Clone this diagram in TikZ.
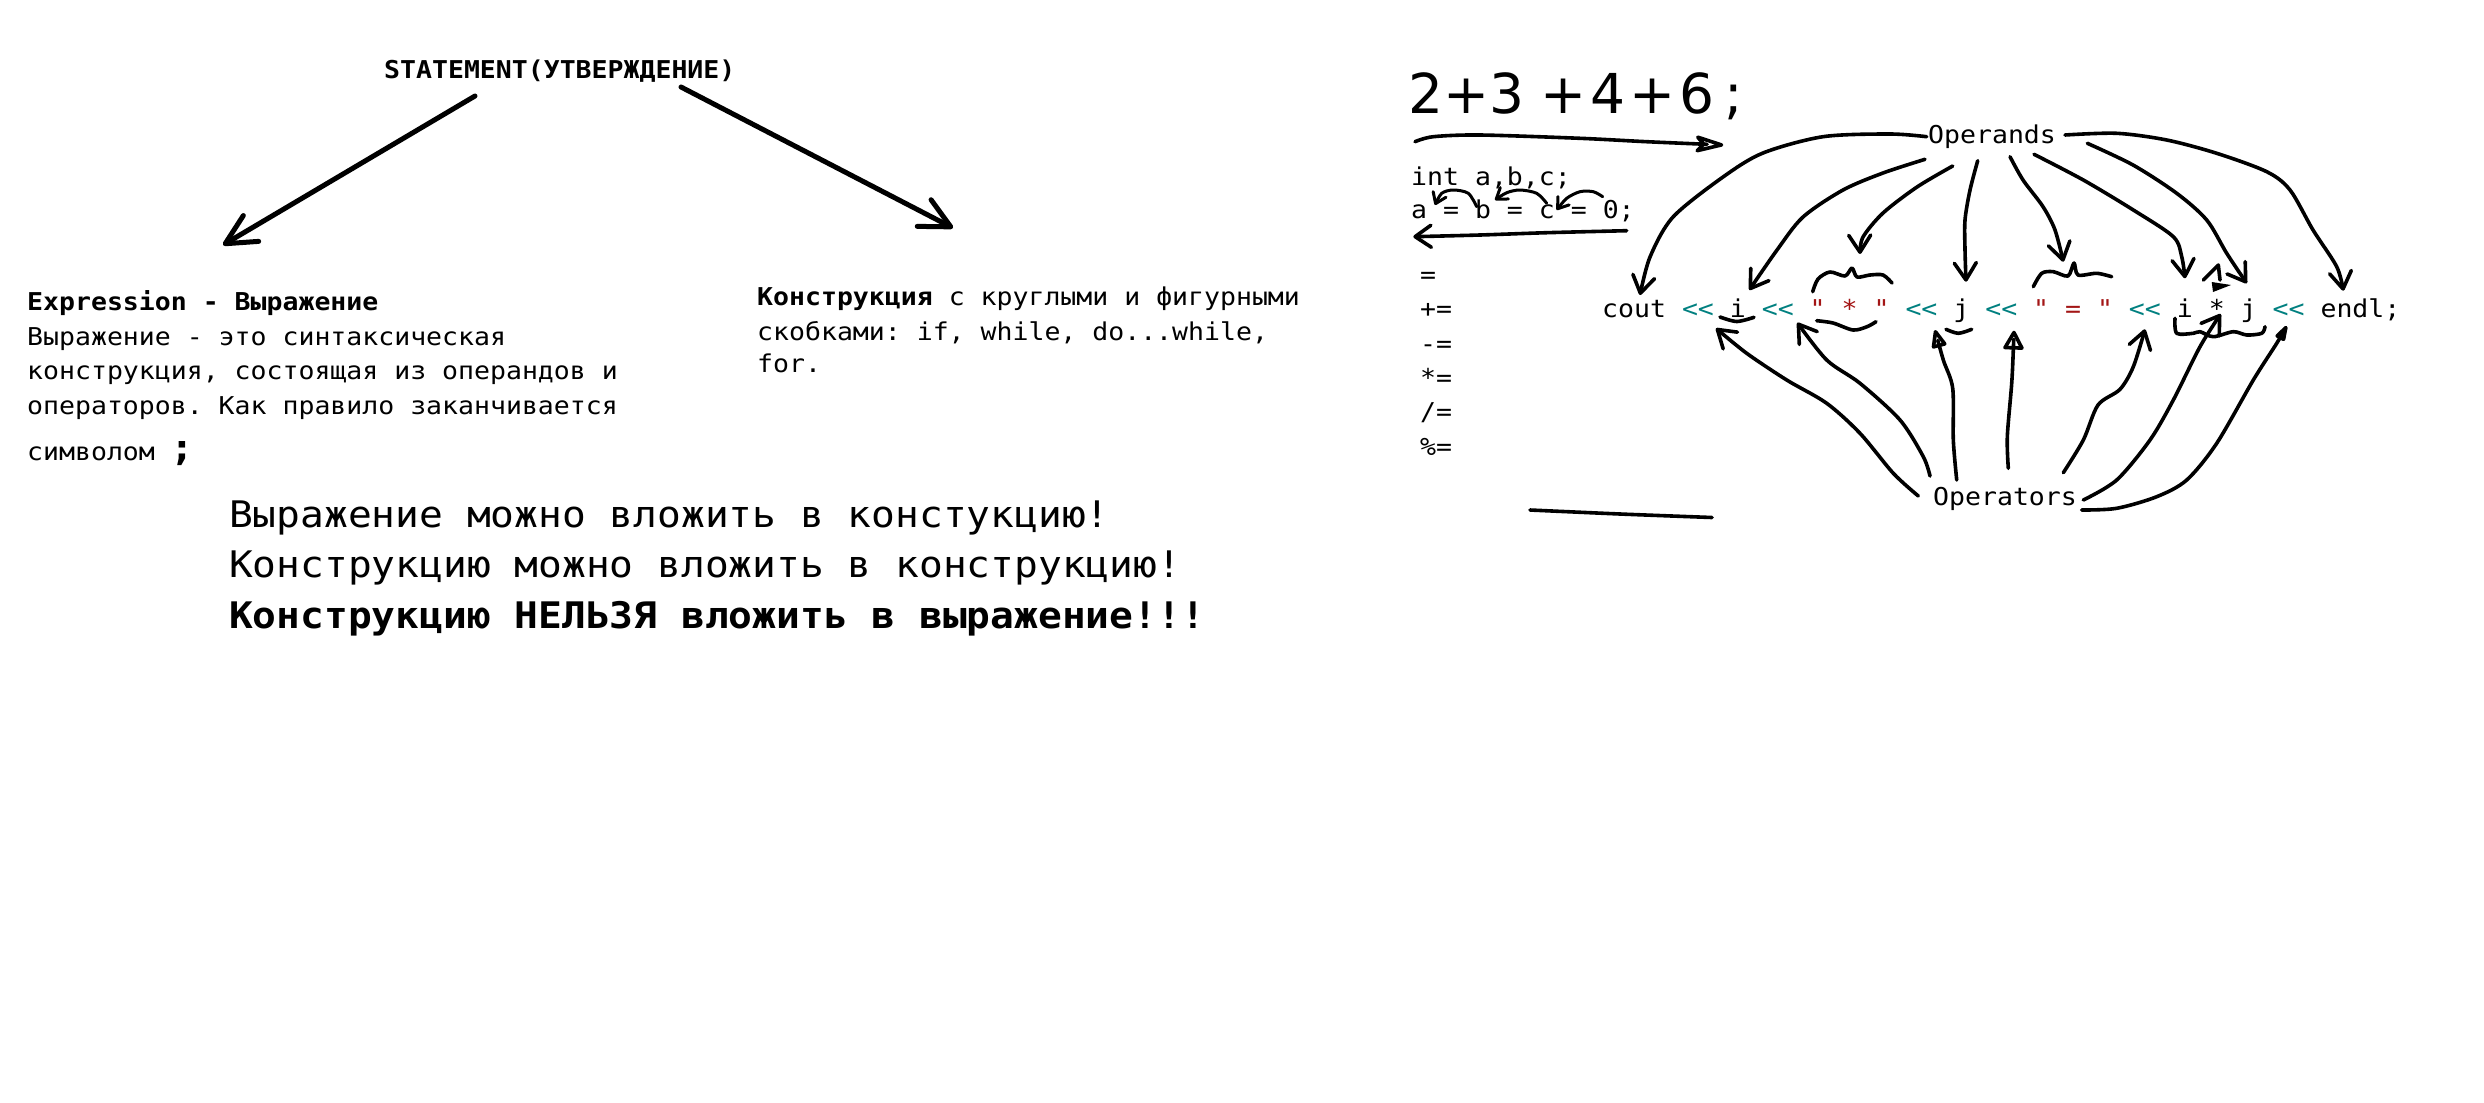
\documentclass[tikz,border=0pt]{standalone}
\usepackage{fontspec}
\usetikzlibrary{arrows.meta}
\newfontfamily\cons{DejaVu Sans Mono}[FakeStretch=1.08]
\newfontfamily\handfont{DejaVu Sans}
\definecolor{opteal}{RGB}{0,128,128}
\definecolor{strred}{RGB}{163,21,21}
\newcommand\codefont{\cons\fontsize{24.55bp}{30bp}\selectfont}
\newcommand\largefont{\cons\fontsize{36.6bp}{44bp}\selectfont}
\newcommand\ops{\textcolor{opteal}{<\kern0pt<}}
\newcommand\strlit[1]{\textcolor{strred}{#1}}
\frenchspacing
\begin{document}
\begin{tikzpicture}[x=1bp, y=-1bp,
  txt/.style={anchor=base west, inner sep=0pt, font=\codefont},
  bigtxt/.style={anchor=base west, inner sep=0pt, font=\largefont},
  pen/.style={line width=3.6bp, line cap=round, line join=round},
  bigpen/.style={line width=5bp, line cap=round, line join=round},
  thinpen/.style={line width=3bp, line cap=round, line join=round},
  barb/.style={-{Straight Barb[round, length=17bp, width=22bp]}},
  smallbarb/.style={-{Straight Barb[round, length=10bp, width=14bp]}},
  bigbarb/.style={-{Straight Barb[round, length=30bp, width=30bp]}},
  tri/.style={-{Triangle[open, round, length=21bp, width=16bp]}},
  narrowtri/.style={-{Triangle[open, round, length=20bp, width=11bp]}}
]
\fill[white] (0,0) rectangle (2484,1102);
\useasboundingbox (0,0) rectangle (2484,1102);

% ---------------- left part ----------------
\node[txt, font=\codefont\bfseries] (stmt) at (384,78) {STATEMENT(УТВЕРЖДЕНИЕ)};
\coordinate (stmt-l) at (475,96);
\coordinate (stmt-r) at (681,87);
\coordinate (expr-t) at (223,245);
\coordinate (konstr-t) at (953,228);
\draw[bigpen, bigbarb] (stmt-l) -- (expr-t);
\draw[bigpen, bigbarb] (stmt-r) -- (konstr-t);

\node[txt, font=\codefont\bfseries] (ex0) at (27,310) {Expression - Выражение};
\node[txt] (ex1) at (27,345) {Выражение - это синтаксическая};
\node[txt] (ex2) at (27,379) {конструкция, состоящая из операндов и};
\node[txt] (ex3) at (27,414) {операторов. Как правило заканчивается};
\node[txt] (ex4) at (27,460) {символом {\largefont\bfseries ;}};

\node[txt] (kn1) at (757,305) {\textbf{Конструкция} с круглыми и фигурными};
\node[txt] (kn2) at (757,340) {скобками: if, while, do...while,};
\node[txt] (kn3) at (757,372) {for.};

\node[bigtxt] (rule1) at (229,527) {Выражение можно вложить в констукцию!};
\node[bigtxt] (rule2) at (229,577) {Конструкцию можно вложить в конструкцию!};
\node[bigtxt, font=\largefont\bfseries] (rule3) at (229,628) {Конструкцию НЕЛЬЗЯ вложить в выражение!!!};

% ---------------- right part: handwritten sum ----------------
\node[anchor=base west, inner sep=0pt, font=\handfont\fontsize{55bp}{60bp}\selectfont] (sum) at (1408,113) {2+3\hspace{16bp}+\hspace{4bp}4\hspace{4bp}+\hspace{4bp}6\hspace{10bp};};
\coordinate (sum-a) at (1415,141.7);
\coordinate (sum-b) at (1723.3,145);
\draw[pen, -{Stealth[open, round, length=36bp, width=20bp, inset=9bp]}] plot[smooth] coordinates {(sum-a) (1433.3,136.7) (1480,135) (1580,138.3) (1646.7,141.7) (sum-b)};

% ---------------- assignment chain ----------------
\node[txt] (decl) at (1411,185) {int a,b,c;};
\node[txt] (chain) at (1411,218) {a = b = c = 0;};
\coordinate (ch-a) at (1435,205);
\coordinate (ch-b1) at (1476.7,206.7);
\coordinate (ch-b2) at (1495,200);
\coordinate (ch-c1) at (1546.7,203.3);
\coordinate (ch-c2) at (1556.7,210);
\coordinate (ch-0) at (1602.7,196.7);
\coordinate (ch-end) at (1626.7,230.7);
\coordinate (ch-start) at (1413.3,236.7);
\draw[thinpen, smallbarb] plot[smooth] coordinates {(ch-b1) (1468.3,193.3) (1453.3,190) (1441.7,193.3) (ch-a)};
\draw[thinpen, smallbarb] plot[smooth] coordinates {(ch-c1) (1536.7,193.3) (1520,190) (1506.7,192.7) (ch-b2)};
\draw[thinpen, smallbarb] plot[smooth] coordinates {(ch-0) (1593.3,191.7) (1580,191.7) (1566.7,198.3) (ch-c2)};
\draw[pen, -{Straight Barb[round, length=16bp, width=22bp]}] plot[smooth] coordinates {(ch-end) (1546.7,232.7) (1480,235) (ch-start)};

\node[txt] (as1) at (1420,283.5) {=};
\node[txt] (as2) at (1420,317.8) {+=};
\node[txt] (as3) at (1420,352) {-=};
\node[txt] (as4) at (1420,386.4) {*=};
\node[txt] (as5) at (1420,420.7) {/=};
\node[txt] (as6) at (1420,455) {\%=};

\draw[pen] plot[smooth] coordinates {(1530,510) (1620,514) (1712,517.5)};

% ---------------- code line ----------------
\node[txt] (code) at (1602,317) {cout \ops{} i \ops{} \strlit{" * "} \ops{} j \ops{} \strlit{" = "} \ops{} i * j \ops{} endl;};
\node[txt] (opd) at (1928,143.3) {Operands};
\node[txt] (opr) at (1933,505) {Operators};

% operand targets
\coordinate (t-cout) at (1640,295);
\coordinate (t-i1) at (1749.3,290);
\coordinate (t-str1) at (1860,254);
\coordinate (t-j1) at (1966,281.7);
\coordinate (t-str2) at (2063.3,261.7);
\coordinate (t-i2) at (2185,278.3);
\coordinate (t-j2) at (2246.7,283.3);
\coordinate (t-endl) at (2343.3,290.7);
% operand starts
\coordinate (od1) at (1926.7,136.7);
\coordinate (od2) at (1925,159.3);
\coordinate (od3) at (1952.7,166);
\coordinate (od4) at (1977.7,160.7);
\coordinate (od5) at (2010,156.7);
\coordinate (od6) at (2034,154.3);
\coordinate (od7) at (2087.3,143.3);
\coordinate (od8) at (2065,135);

\draw[pen, barb] plot[smooth] coordinates {(od1) (1890,134) (1823,136.7) (1763,153) (1723,177) (1673,217) (1650,257) (t-cout)};
\draw[pen, barb] plot[smooth] coordinates {(od2) (1883,173) (1843,190) (1803,217) (1777,250) (t-i1)};
\draw[pen, barb] plot[smooth] coordinates {(od3) (1917,187) (1883,213) (1863,237) (t-str1)};
\draw[pen, barb] plot[smooth] coordinates {(od4) (1970,190) (1965,220) (1965,250) (t-j1)};
\draw[pen, barb] plot[smooth] coordinates {(od5) (2023,180) (2043,206.7) (2055,230) (t-str2)};
\draw[pen, barb] plot[smooth] coordinates {(od6) (2083.3,180) (2133.3,210) (2173.3,236.7) (2181.7,256.7) (t-i2)};
\draw[pen, barb] plot[smooth] coordinates {(od7) (2133,165) (2176.7,193.3) (2206.7,220) (2226.7,253.3) (t-j2)};
\draw[pen, barb] plot[smooth] coordinates {(od8) (2116.7,133.3) (2166.7,140) (2216.7,153.3) (2266.7,171.7) (2290,190) (2313,230) (2336.7,266.7) (t-endl)};

% braces
\draw[pen] plot[smooth] coordinates {(1812.7,291.7) (1818,279) (1830,272) (1845,276) (1852,268) (1857,277) (1870,275) (1883,275) (1892,283)};
\draw[pen] plot[smooth] coordinates {(2033.3,286.7) (2041.7,273.3) (2053.3,271.7) (2068,276) (2074,263) (2078,275) (2096.7,273.3) (2111.7,276.7)};
\draw[pen] plot[smooth] coordinates {(1720,317) (1736.7,321.5) (1754,317.3)};
\draw[pen] plot[smooth] coordinates {(1816.7,320.7) (1833,323) (1853,330) (1867,326.7) (1876,321.7)};
\draw[pen] plot[smooth] coordinates {(1946,329.3) (1958.3,333.3) (1971.7,329.3)};
\draw[pen] plot[smooth] coordinates {(2175,318.3) (2176.7,333.3) (2193.3,333.3) (2200,331.7) (2213.3,336.7) (2233.3,331.7) (2246.7,335) (2261.7,333.3) (2265,326.7)};
% mark above the star
\draw[pen] (2203.3,280) -- (2218.3,265) -- (2220,280);
\fill (2211.7,282) -- (2231,285) -- (2213,292) -- cycle;

% operator targets
\coordinate (u-op1) at (1716,328.3);
\coordinate (u-op2) at (1797.3,322.7);
\coordinate (u-op3) at (1935,330);
\coordinate (u-op4) at (2014,330.7);
\coordinate (u-op5) at (2145,329.3);
\coordinate (u-star) at (2220.7,314);
\coordinate (u-op6) at (2286.7,326);
% operator starts
\coordinate (or1) at (1918.3,496);
\coordinate (or2) at (1930,476);
\coordinate (or3) at (1956.7,480);
\coordinate (or4) at (2008.3,468.3);
\coordinate (or5) at (2063.3,472.7);
\coordinate (or6) at (2083.3,500);
\coordinate (or7) at (2081.7,510);

\draw[pen, barb] plot[smooth] coordinates {(or1) (1893.3,473.3) (1860,433.3) (1826.7,403.3) (1786.7,380) (1746.7,353.3) (u-op1)};
\draw[pen, barb] plot[smooth] coordinates {(or2) (1923.3,456.7) (1900,420) (1860,383.3) (1826.7,360) (u-op2)};
\draw[pen, tri] plot[smooth] coordinates {(or3) (1953.3,440) (1952.7,388.3) (1943.3,360) (u-op3)};
\draw[pen, -{Triangle[open, round, length=21bp, width=22bp]}] plot[smooth] coordinates {(or4) (2007.3,436.7) (2011.7,383.3) (2013.3,350) (u-op4)};
\draw[pen, barb] plot[smooth] coordinates {(or5) (2083.3,440) (2098,405) (2120,389.3) (2133.3,366.7) (u-op5)};
\draw[pen, barb] plot[smooth] coordinates {(or6) (2116.7,480) (2150,440) (2173.3,400) (2200,346.7) (u-star)};
\draw[pen, narrowtri] plot[smooth] coordinates {(or7) (2116.7,508.3) (2156.7,496.7) (2186.7,480) (2216.7,443.3) (2253.3,380) (2276.7,343.3) (u-op6)};
\end{tikzpicture}
\end{document}
